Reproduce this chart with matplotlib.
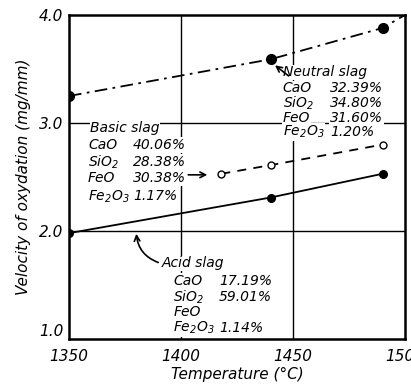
import matplotlib.pyplot as plt

# temperature (C) and velocity of oxydation (mg/mm2)
neutral_t = [1350, 1440, 1490]
neutral_v = [3.25, 3.59, 3.88]
basic_t = [1418, 1440, 1490]
basic_v = [2.53, 2.61, 2.80]
acid_t = [1350, 1440, 1490]
acid_v = [1.98, 2.31, 2.53]

xticks = [1350, 1400, 1450, 1500]
yticks = [1.0, 2.0, 3.0, 4.0]

oxides = ['CaO', 'SiO$_2$', 'FeO', 'Fe$_2$O$_3$']
neutral_pct = ['32.39%', '34.80%', '31.60%', '1.20%']
basic_pct = ['40.06%', '28.38%', '30.38%', '1.17%']
acid_pct = ['17.19%', '59.01%', '', '1.14%']

plt.rcParams['font.family'] = ['DejaVu Sans']
plt.rcParams['font.style'] = 'italic'

fig = plt.figure(figsize=(4.11, 3.89), dpi=100)
ax = fig.add_axes([69 / 411, 50 / 389, 336 / 411, 324 / 389])

# grid lines
for x in [1400, 1450]:
    ax.axvline(x, color='black', lw=1.0, zorder=1)
for y in [2.0, 3.0]:
    ax.axhline(y, color='black', lw=1.0, zorder=1)

# neutral slag, dash-dot, extended to the corner
ax.plot(neutral_t + [1500], neutral_v + [4.0], color='black', lw=1.3,
        dashes=(7, 3, 1.5, 3), zorder=3)
ax.plot(neutral_t, neutral_v, 'o', color='black', ms=7, zorder=4)

# basic slag, dashed, open circles
ax.plot(basic_t, basic_v, color='black', lw=1.3, dashes=(5, 4), zorder=3)
ax.plot(basic_t, basic_v, 'o', mfc='white', mec='black', mew=1.0, ms=5, zorder=4)

# acid slag, solid
ax.plot(acid_t, acid_v, color='black', lw=1.3, zorder=3)
ax.plot(acid_t, acid_v, 'o', color='black', ms=5.5, zorder=4)

box = dict(facecolor='white', edgecolor='none', pad=0.5)
fs = 10


def block(title, tx, ty, names, pcts, nx, px, ys):
    ax.text(tx, ty, title, fontsize=fs, va='center', ha='left', bbox=box, zorder=5)
    for name, pct, y in zip(names, pcts, ys):
        ax.text(nx, y, name, fontsize=fs, va='center', ha='left', bbox=box, zorder=5)
        if pct:
            ax.text(px, y, pct, fontsize=fs, va='center', ha='left', bbox=box, zorder=5)


block('Neutral slag', 1445.5, 3.47, oxides, neutral_pct,
      1445.5, 1466.5, [3.32, 3.185, 3.05, 2.92])
ax.annotate('', xy=(1441, 3.55), xytext=(1449, 3.42),
            arrowprops=dict(arrowstyle='->', color='black', lw=1.2), zorder=6)

block('Basic slag', 1359.5, 2.95, oxides, basic_pct,
      1358.5, 1378.5, [2.795, 2.64, 2.49, 2.32])
ax.annotate('', xy=(1413, 2.52), xytext=(1402, 2.52),
            arrowprops=dict(arrowstyle='->', color='black', lw=1.2), zorder=6)

block('Acid slag', 1391.5, 1.70, oxides, acid_pct,
      1396.5, 1417.0, [1.54, 1.39, 1.25, 1.10])
ax.annotate('', xy=(1380, 2.0), xytext=(1391, 1.70),
            arrowprops=dict(arrowstyle='->', color='black', lw=1.2,
                            connectionstyle='arc3,rad=-0.35'), zorder=6)

ax.set_xlim(1350, 1500)
ax.set_ylim(1.0, 4.0)
ax.set_xticks(xticks)
ax.set_xticklabels([str(t) for t in xticks], fontsize=11)
ax.set_yticks(yticks)
ax.set_yticklabels(['%.1f' % v for v in yticks], fontsize=11)
ax.tick_params(length=0, pad=4)
ax.tick_params(axis='x', pad=7)
ax.get_yticklabels()[0].set_va('bottom')
for s in ax.spines.values():
    s.set_linewidth(1.8)

ax.set_xlabel('Temperature (°C)', fontsize=11, labelpad=2)
ax.set_ylabel('Velocity of oxydation (mg/mm)', fontsize=11, labelpad=6)

fig.savefig('out.png', dpi=100)
